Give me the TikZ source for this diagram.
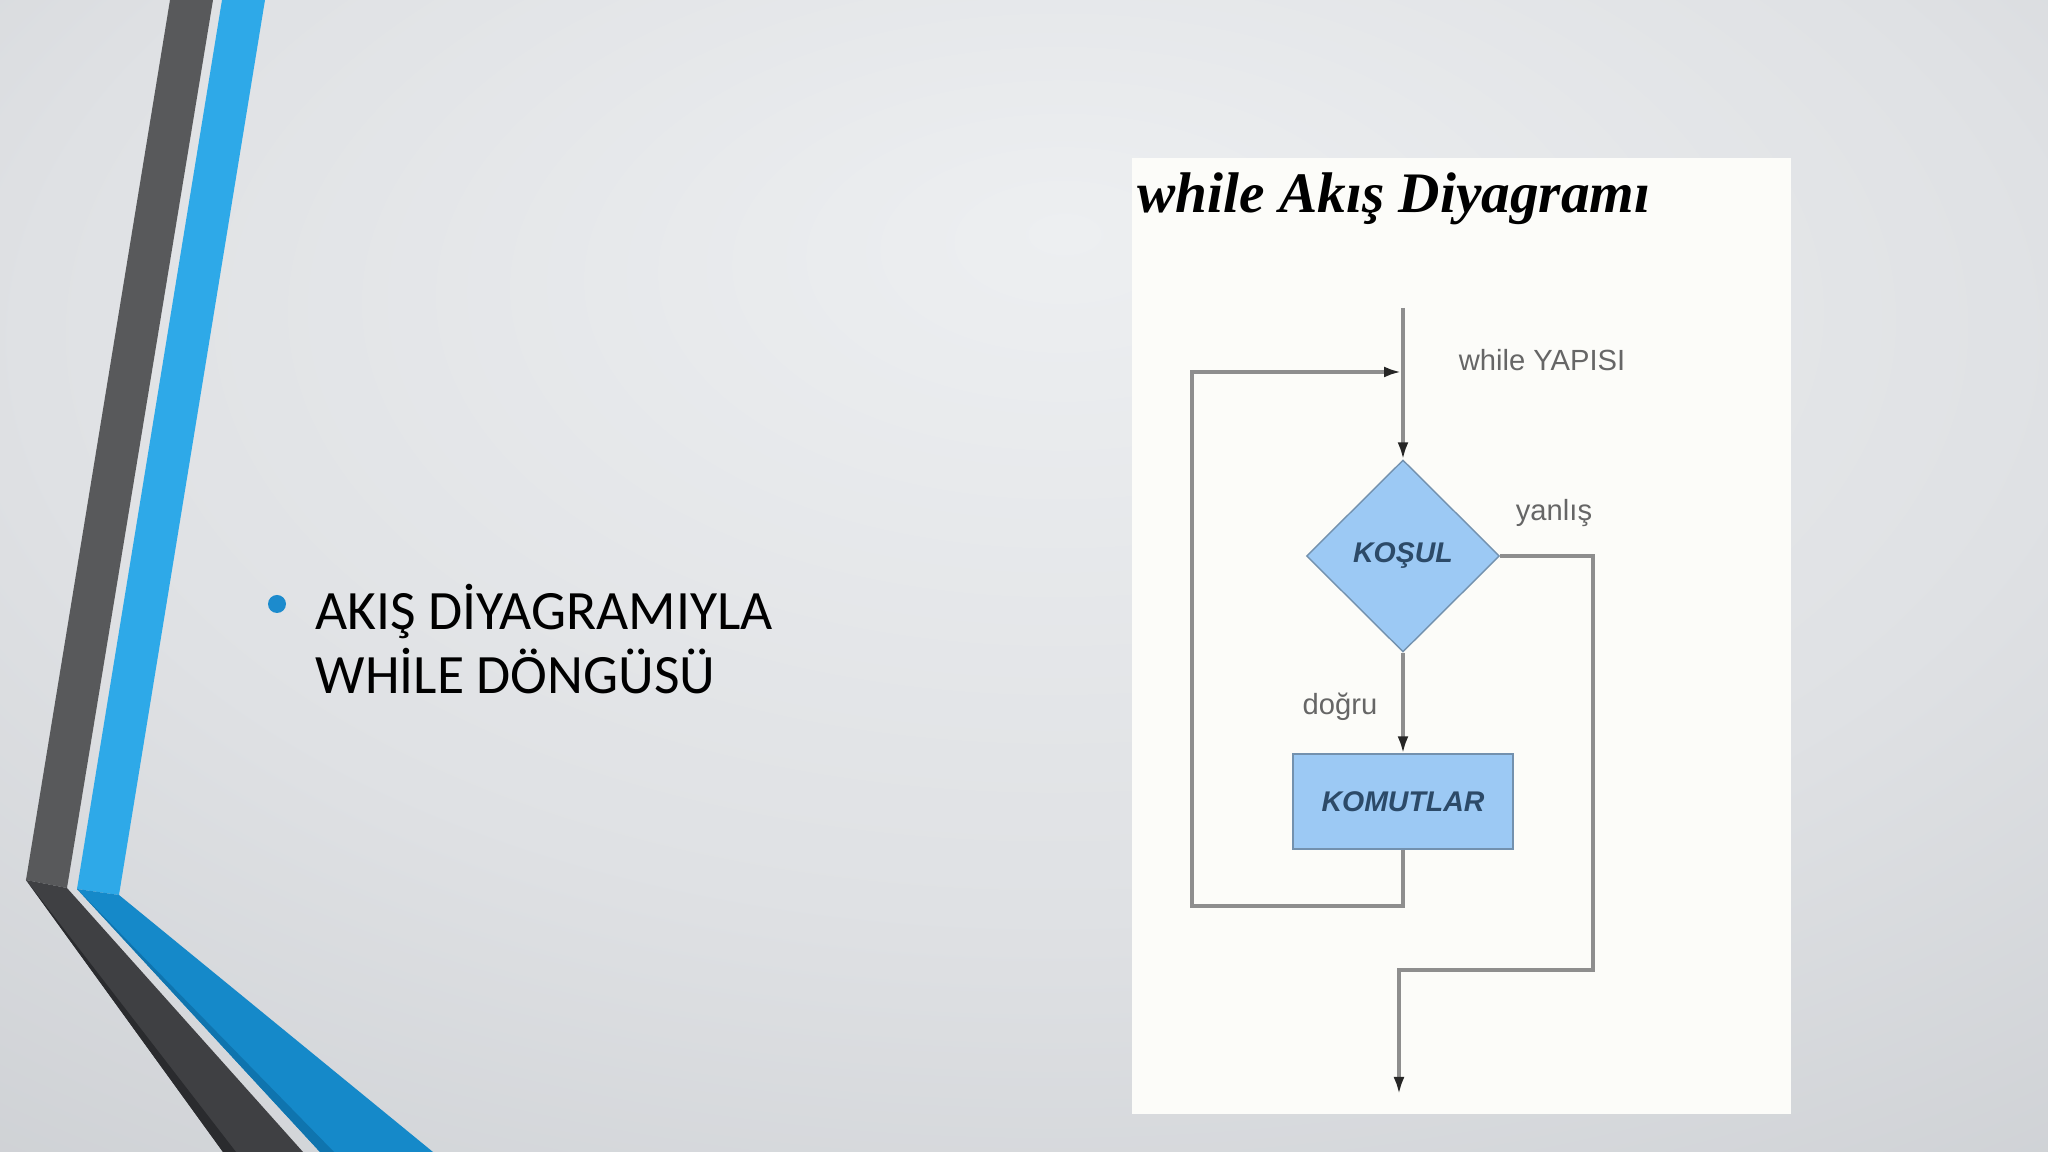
\documentclass[tikz,border=0pt]{standalone}
\usepackage{fontspec}
\setmainfont{Liberation Serif}
\newfontfamily\etiketfont{Liberation Sans}
\newfontfamily\maddefont{Carlito}
\usetikzlibrary{shapes.geometric,positioning,arrows.meta}

\definecolor{bgA}{HTML}{EDEFF1}
\definecolor{bgB}{HTML}{DFE1E4}
\definecolor{bgC}{HTML}{C7CACE}
\definecolor{bgD}{HTML}{B4B7BB}
\definecolor{koyugri}{HTML}{58595B}
\definecolor{koyugriB}{HTML}{3F4043}
\definecolor{koyugriC}{HTML}{2A2B2E}
\definecolor{acikmavi}{HTML}{2EA9E8}
\definecolor{koyumavi}{HTML}{1589C9}
\definecolor{koyumaviB}{HTML}{0F74AE}
\definecolor{madde}{HTML}{1C8BCD}
\definecolor{panelrenk}{HTML}{FCFCF9}
\definecolor{kutumavi}{HTML}{9CC9F4}
\definecolor{kutukenar}{HTML}{7391AE}
\definecolor{cizgi}{HTML}{8E8E8E}
\definecolor{yazimavi}{HTML}{2C4A68}

\pgfdeclareradialshading{arkaplan}{\pgfpoint{1bp}{15bp}}{%
  color(0bp)=(bgA); color(25bp)=(bgB); color(50bp)=(bgC); color(80bp)=(bgD)}

\begin{document}
\begin{tikzpicture}[>=Latex, node distance=2.455cm, on grid, auto,
  akis/.style={draw=cizgi, line width=0.9pt},
  ok/.style={akis, -{Latex[length=1.7mm, width=1.1mm, color=black!85]}},
  karar/.style={diamond, aspect=1, draw=kutukenar, fill=kutumavi, inner sep=0pt,
    minimum width=1.93cm, minimum height=1.92cm, text=yazimavi,
    font=\etiketfont\bfseries\itshape\fontsize{8.1}{9}\selectfont},
  komut/.style={rectangle, draw=kutukenar, fill=kutumavi, inner sep=0pt,
    minimum width=2.2cm, minimum height=0.95cm, text=yazimavi,
    font=\etiketfont\bfseries\itshape\fontsize{8.1}{9}\selectfont},
  etk/.style={text=black!60, font=\etiketfont\fontsize{8.3}{10}\selectfont},
  satir/.style={anchor=base west, inner sep=0pt, font=\maddefont\fontsize{15.8}{19}\selectfont}]

  \shade[shading=arkaplan] (0,0) rectangle (20.48,11.52);
  \useasboundingbox (0,0) rectangle (20.48,11.52);

  % serit
  \fill[koyugri] (1.70,11.52) -- (2.13,11.52) -- (0.67,2.64) -- (0.26,2.72) -- cycle;
  \fill[acikmavi] (2.22,11.52) -- (2.65,11.52) -- (1.19,2.57) -- (0.77,2.63) -- cycle;
  \fill[koyugriB] (0.26,2.72) -- (0.67,2.64) -- (3.03,0) -- (2.23,0) -- cycle;
  \fill[koyugriC] (0.26,2.72) -- (2.23,0) -- (2.36,0) -- cycle;
  \fill[koyumavi] (0.77,2.63) -- (1.19,2.57) -- (4.33,0) -- (3.20,0) -- cycle;
  \fill[koyumaviB] (0.77,2.63) -- (3.20,0) -- (3.34,0) -- cycle;

  \node[circle, fill=madde, inner sep=0pt, minimum size=0.18cm] (madde) at (2.77,5.48) {};
  \node[satir] (satir1) at (3.15,5.22) {AKIŞ DİYAGRAMIYLA};
  \node[satir] (satir2) at (3.15,4.58) {WHİLE DÖNGÜSÜ};

  \fill[panelrenk] (11.32,0.38) rectangle (17.91,9.94);
  \node[anchor=base west, inner sep=0pt, font=\bfseries\itshape\fontsize{16.3}{19}\selectfont]
    (diyagram) at (11.37,9.39) {while Akış Diyagramı};

  \node[karar] (kosul) at (14.03,5.96) {KOŞUL};
  \node[komut] (komutlar) [below=of kosul] {KOMUTLAR};

  \coordinate (giris) at (14.03,8.44);
  \coordinate (geri) at (14.01,7.80);
  \coordinate (donus) at (11.92,2.46);
  \coordinate (birlesme) at (15.93,1.82);
  \coordinate (cikis) at (13.99,0.58);

  \node[etk] (yapi) at (15.42,7.92) {while YAPISI};
  \node[etk] (yanlis) at (15.54,6.39) {yanlış};
  \node[etk] (dogru) at (13.40,4.45) {doğru};

  \draw[ok] (giris) -- (kosul.north);
  \draw[ok] (kosul.south) -- (komutlar.north);
  \draw[ok] (komutlar.south) |- (donus) |- (geri);
  \draw[ok] (kosul.east) -| (birlesme) -| (cikis);
\end{tikzpicture}
\end{document}
